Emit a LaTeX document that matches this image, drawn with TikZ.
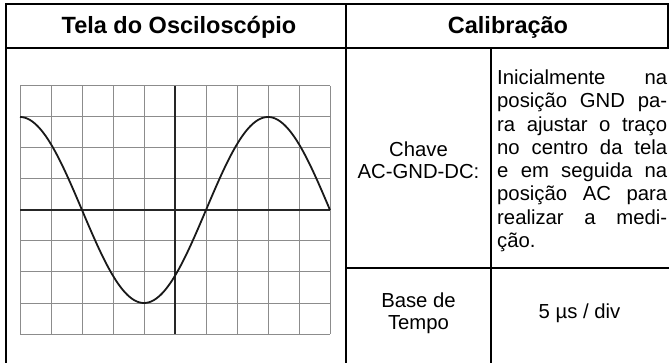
\documentclass[tikz,border=0pt]{standalone}
\usepackage{fontspec}
\setmainfont{Liberation Sans}
\begin{document}
\begin{tikzpicture}[x=1pt,y=-1pt,
  frame/.style={line width=2pt, draw=black},
  gridline/.style={line width=1pt, draw=black!45},
  axisline/.style={line width=1.6pt, draw=black!85},
  wave/.style={line width=1.8pt, draw=black!90, line join=round},
  head/.style={font=\fontsize{23.5}{28}\selectfont\bfseries, inner sep=0pt, anchor=base},
  body/.style={font=\fontsize{20.3}{23.3}\selectfont, inner sep=0pt, anchor=base},
  para/.style={font=\fontsize{20.3}{23.3}\selectfont, inner sep=0pt, anchor=base west},
]
\useasboundingbox (0,0) rectangle (669,363);
% table frame
\draw[frame] (6,363) -- (6,4) -- (669,4);
\draw[frame] (6,48) -- (669,48);
\draw[frame] (668,4) -- (668,48);
\draw[frame] (346,4) -- (346,363);
\draw[frame] (491,48) -- (491,363);
\draw[frame] (346,268) -- (669,268);
% oscilloscope grid
\foreach \i in {0,...,10} \draw[gridline] ({20+31*\i},86) -- ({20+31*\i},334);
\foreach \j in {0,...,8} \draw[gridline] (20,{86+31*\j}) -- (330,{86+31*\j});
\draw[axisline] (175,86) -- (175,334);
\draw[axisline] (20,210) -- (330,210);
\draw[wave] plot[domain=0:310, samples=160, smooth] ({20+\x},{210-93*cos(\x/124*180)});
% headers
\node[head] (t1) at (179,33.3) {Tela do Osciloscópio};
\node[head] (t2) at (508,33.3) {Calibração};
% calibration cells
\node[body] (c1) at (418.5,157) {Chave};
\node[body] (c2) at (418.5,179) {AC-GND-DC:};
\node[body] (b1) at (418.5,307) {Base de};
\node[body] (b2) at (418.5,329) {Tempo};
\node[body] (v1) at (579.5,318.5) {5 µs / div};
% justified paragraph
\node[para] (r1) at (497,84.5)  {\makebox[170pt][s]{Inicialmente na}};
\node[para] (r2) at (497,107.8) {\makebox[170pt][s]{posição GND pa-}};
\node[para] (r3) at (497,131.1) {\makebox[170pt][s]{ra ajustar o traço}};
\node[para] (r4) at (497,154.4) {\makebox[170pt][s]{no centro da tela}};
\node[para] (r5) at (497,177.7) {\makebox[170pt][s]{e em seguida na}};
\node[para] (r6) at (497,201.0) {\makebox[170pt][s]{posição AC para}};
\node[para] (r7) at (497,224.3) {\makebox[170pt][s]{realizar a medi-}};
\node[para] (r8) at (497,247.6) {ção.};
\end{tikzpicture}
\end{document}
